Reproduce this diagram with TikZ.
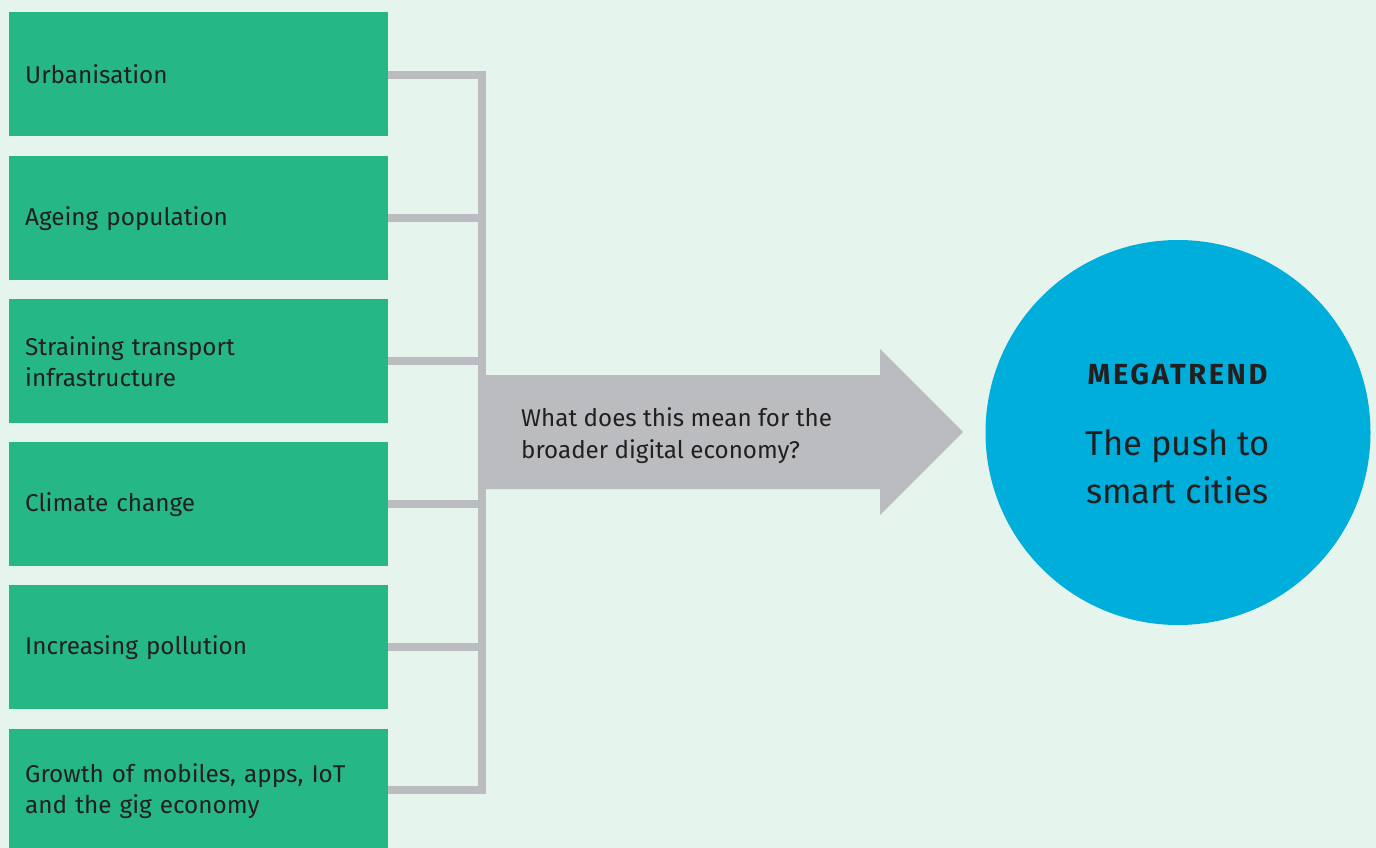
\documentclass[tikz,border=0pt]{standalone}
\usepackage{fontspec}
\setmainfont{Fira Sans}
\definecolor{bgc}{HTML}{E6F4EE}
\definecolor{greenc}{HTML}{25B886}
\definecolor{grayc}{HTML}{BBBCBF}
\definecolor{bluec}{HTML}{00AEDB}
\definecolor{txtc}{HTML}{231F20}
\begin{document}
\begin{tikzpicture}[x=1pt,y=-1pt,
  factor/.style={rectangle,fill=greenc,draw=none,anchor=north west,
    minimum width=379pt,minimum height=124pt,inner xsep=16pt,
    text width=347pt,align=left,text=txtc,
    font=\fontsize{24.3}{31}\selectfont},
  conn/.style={draw=grayc,line width=8pt,miter limit=10},
  bigarrow/.style={fill=grayc,draw=none},
  arrowtext/.style={anchor=west,align=left,text=txtc,inner sep=0pt,
    font=\fontsize{24.2}{32}\selectfont},
  trend/.style={circle,fill=bluec,draw=none,minimum size=385pt,inner sep=0pt}]
\fill[bgc] (0,0) rectangle (1376,848);
\useasboundingbox (0,0) rectangle (1376,848);
\node[factor] (b1) at (9,12) {Urbanisation};
\node[factor] (b2) at (9,156) {Ageing population};
\node[factor] (b3) at (9,299) {Straining transport\\infrastructure};
\node[factor] (b4) at (9,442) {Climate change};
\node[factor] (b5) at (9,585) {Increasing pollution};
\node[factor] (b6) at (9,729) {Growth of mobiles, apps, IoT\\and the gig economy};
\coordinate (bustop) at (482,75);
\coordinate (busbot) at (482,790);
\path[conn] (b1.east |- bustop) -- (bustop) -- (busbot) -- (b6.east |- busbot);
\path[conn] (b2.east) -- (b2.east -| bustop);
\path[conn] (b3.east) -- (b3.east -| bustop);
\path[conn] (b4.east) -- (b4.east -| bustop);
\path[conn] (b5.east) -- (b5.east -| bustop);
\fill[bigarrow] (479,375) -- (880,375) -- (880,349) -- (963,432) -- (880,515) -- (880,489) -- (479,489) -- cycle;
\node[arrowtext] (q) at (521,436) {What does this mean for the\\broader digital economy?};
\node[trend] (c) at (1178,432.5) {};
\node[anchor=base,text=txtc,inner sep=0pt,font=\fontsize{29}{29}\bfseries\addfontfeature{LetterSpace=9}] (mt) at (1177.5,384) {MEGATREND};
\node[anchor=base,text=txtc,inner sep=0pt,font=\fontsize{34.5}{48}\selectfont] (l1) at (1177.5,455) {The push to};
\node[anchor=base,text=txtc,inner sep=0pt,font=\fontsize{34.5}{48}\selectfont] (l2) at (1177.5,503) {smart cities};
\end{tikzpicture}
\end{document}
